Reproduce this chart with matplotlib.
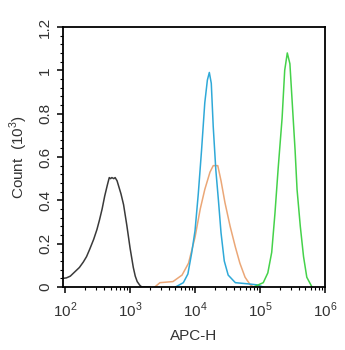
import numpy as np
import matplotlib
matplotlib.use('Agg')
import matplotlib.pyplot as plt
from matplotlib.ticker import FixedLocator, LogLocator, NullFormatter, AutoMinorLocator

plt.rcParams['font.family'] = ['Liberation Sans', 'DejaVu Sans']
plt.rcParams['mathtext.fontset'] = 'custom'
plt.rcParams['mathtext.rm'] = 'Liberation Sans'

# histogram traces, x given as log10(APC-H), y in thousands of events
black_logx = [1.97, 2.02, 2.08, 2.15, 2.22, 2.28, 2.33, 2.38, 2.44, 2.49, 2.53, 2.57,
              2.61, 2.65, 2.68, 2.70, 2.72, 2.75, 2.77, 2.80, 2.82, 2.86, 2.90, 2.95,
              3.00, 3.05, 3.08, 3.11, 3.15, 3.18, 3.30]
black_y = [0.04, 0.042, 0.05, 0.07, 0.09, 0.115, 0.14, 0.175, 0.22, 0.265, 0.31, 0.36,
           0.42, 0.47, 0.505, 0.50, 0.505, 0.50, 0.505, 0.49, 0.47, 0.43, 0.38, 0.285,
           0.18, 0.09, 0.05, 0.025, 0.008, 0.0, 0.0]

blue_logx = [3.70, 3.82, 3.89, 3.95, 4.00, 4.05, 4.10, 4.15, 4.19, 4.22, 4.25, 4.28,
             4.32, 4.36, 4.40, 4.45, 4.51, 4.62, 4.80, 4.95, 5.05]
blue_y = [0.0, 0.02, 0.06, 0.16, 0.26, 0.43, 0.63, 0.85, 0.955, 0.99, 0.94, 0.74,
          0.54, 0.40, 0.25, 0.12, 0.055, 0.02, 0.015, 0.01, 0.0]

orange_logx = [3.38, 3.46, 3.66, 3.80, 3.90, 4.00, 4.08, 4.15, 4.23, 4.28, 4.35, 4.40,
               4.46, 4.54, 4.62, 4.69, 4.77, 4.85, 4.90]
orange_y = [0.0, 0.02, 0.025, 0.055, 0.11, 0.23, 0.36, 0.45, 0.53, 0.56, 0.56, 0.49,
            0.39, 0.28, 0.185, 0.11, 0.045, 0.01, 0.0]

green_logx = [4.90, 5.05, 5.12, 5.18, 5.23, 5.28, 5.34, 5.38, 5.42, 5.46, 5.50, 5.54,
              5.57, 5.62, 5.67, 5.72, 5.80]
green_y = [0.0, 0.02, 0.065, 0.16, 0.34, 0.55, 0.78, 1.0, 1.08, 1.03, 0.83, 0.63,
           0.45, 0.28, 0.14, 0.045, 0.0]

y_ticks = [0, 0.2, 0.4, 0.6, 0.8, 1.0, 1.2]
y_ticklabels = ['0', '0.2', '0.4', '0.6', '0.8', '1', '1.2']
x_ticks = [1e2, 1e3, 1e4, 1e5, 1e6]
x_ticklabels = ['$10^2$', '$10^3$', '$10^4$', '$10^5$', '$10^6$']

fig = plt.figure(figsize=(3.45, 3.5), dpi=100)
ax = fig.add_axes([0.183, 0.18, 0.759, 0.743])

traces = [
    (black_logx, black_y, '#3a3a3a'),
    (orange_logx, orange_y, '#eba777'),
    (blue_logx, blue_y, '#2fa9d8'),
    (green_logx, green_y, '#45d24a'),
]
for lx, yv, col in traces:
    ax.plot(10 ** np.array(lx), yv, color=col, lw=1.1)

ax.set_xscale('log')
ax.set_xlim(10 ** 1.97, 1e6)
ax.set_ylim(0, 1.2)

ax.xaxis.set_major_locator(FixedLocator(x_ticks))
ax.set_xticklabels(x_ticklabels)
ax.xaxis.set_minor_locator(LogLocator(base=10, subs=np.arange(2, 10)))
ax.xaxis.set_minor_formatter(NullFormatter())

ax.set_yticks(y_ticks)
ax.set_yticklabels(y_ticklabels, rotation=90, va='center')
ax.yaxis.set_minor_locator(AutoMinorLocator(5))

for s in ax.spines.values():
    s.set_linewidth(1.3)
    s.set_color('black')

ax.tick_params(which='major', direction='out', length=4, width=1.1, labelsize=11,
               labelcolor='#333333')
ax.tick_params(axis='x', which='major', pad=6)
ax.tick_params(axis='y', which='major', pad=4)
ax.tick_params(which='minor', direction='out', length=2.5, width=0.8)

ax.set_xlabel('APC-H', fontsize=11, color='#333333', labelpad=6)
ax.set_ylabel('Count  (10$^3$)', fontsize=11, color='#333333', labelpad=6)

fig.savefig('out.png', dpi=100)
